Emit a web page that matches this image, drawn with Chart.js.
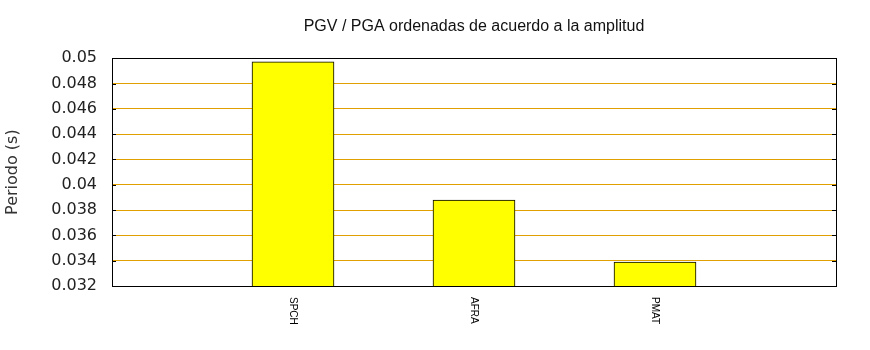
<!DOCTYPE html>
<html>
<head>
<meta charset="utf-8">
<script src="https://cdn.jsdelivr.net/npm/chart.js@4"></script>
<style>
  html, body { margin: 0; padding: 0; background: #fff; }
  #wrap { width: 870px; height: 350px; }
</style>
</head>
<body>
<div id="wrap"><canvas id="c" width="870" height="350"></canvas></div>
<script>
// ---- data ----
const categories = ['', 'SPCH', 'AFRA', 'PMAT', ''];
const periodValues = [null, 0.04972, 0.03879, 0.03389, null];
const yTickValues = [0.032, 0.034, 0.036, 0.038, 0.04, 0.042, 0.044, 0.046, 0.048, 0.05];
const yTickLabels = ['0.032', '0.034', '0.036', '0.038', '0.04', '0.042', '0.044', '0.046', '0.048', '0.05'];
const chartTitle = 'PGV / PGA ordenadas de acuerdo a la amplitud';
const yTitle = 'Periodo (s)';

const frameAndLabels = {
  id: 'frameAndLabels',
  afterDraw(chart) {
    const ctx = chart.ctx;
    const a = chart.chartArea;
    const xs = chart.scales.x, ys = chart.scales.y;
    ctx.save();
    // frame
    ctx.strokeStyle = '#000';
    ctx.lineWidth = 1;
    ctx.strokeRect(Math.round(a.left) + 0.5, Math.round(a.top) + 0.5,
                   Math.round(a.right - a.left), Math.round(a.bottom - a.top));
    // small inward ticks on left and right
    ctx.beginPath();
    ys.ticks.forEach(t => {
      const y = Math.round(ys.getPixelForValue(t.value)) + 0.5;
      ctx.moveTo(a.left, y); ctx.lineTo(a.left + 4, y);
      ctx.moveTo(a.right - 4, y); ctx.lineTo(a.right, y);
    });
    ctx.stroke();
    // rotated category labels
    ctx.fillStyle = '#000';
    ctx.font = '10px "Liberation Sans", Arial, sans-serif';
    ctx.textAlign = 'left';
    ctx.textBaseline = 'middle';
    categories.forEach((lab, i) => {
      if (!lab) return;
      const x = xs.getPixelForValue(i);
      ctx.save();
      ctx.translate(x, a.bottom + 11);
      ctx.rotate(Math.PI / 2);
      ctx.fillText(lab, 0, 0);
      ctx.restore();
    });
    ctx.restore();
  }
};

new Chart(document.getElementById('c'), {
  type: 'bar',
  data: {
    labels: categories,
    datasets: [{
      data: periodValues,
      backgroundColor: '#ffff00',
      borderColor: '#000000',
      borderWidth: 1,
      borderSkipped: false,
      barThickness: 82
    }]
  },
  options: {
    responsive: false,
    animation: false,
    devicePixelRatio: 1,
    layout: { padding: { left: 0, right: 34, top: 0, bottom: 0 } },
    plugins: {
      legend: { display: false },
      tooltip: { enabled: false },
      title: {
        display: true,
        fullSize: false,
        text: chartTitle,
        color: '#111',
        font: { family: '"Liberation Sans", Arial, sans-serif', size: 16, weight: 'normal' },
        padding: { top: 17, bottom: 22 }
      }
    },
    scales: {
      x: {
        type: 'category',
        offset: false,
        grid: { display: false, drawTicks: false },
        border: { display: false },
        ticks: { display: false },
        afterFit(scale) { scale.height = 64; }
      },
      y: {
        min: 0.032,
        max: 0.05,
        grid: {
          color: '#dfa000',
          lineWidth: 1,
          drawTicks: false
        },
        border: { display: false },
        afterBuildTicks(scale) {
          scale.ticks = yTickValues.map(v => ({ value: v }));
        },
        ticks: {
          padding: 15,
          color: '#222',
          font: { family: '"DejaVu Sans", sans-serif', size: 16 },
          callback(value) {
            const i = yTickValues.findIndex(v => Math.abs(v - value) < 1e-9);
            return i >= 0 ? yTickLabels[i] : '';
          }
        },
        title: {
          display: true,
          text: yTitle,
          color: '#333',
          font: { family: '"DejaVu Sans", sans-serif', size: 16 },
          padding: { top: 3, bottom: 0 }
        },
        afterFit(scale) { scale.width = 112; }
      }
    }
  },
  plugins: [frameAndLabels]
});
</script>
</body>
</html>
